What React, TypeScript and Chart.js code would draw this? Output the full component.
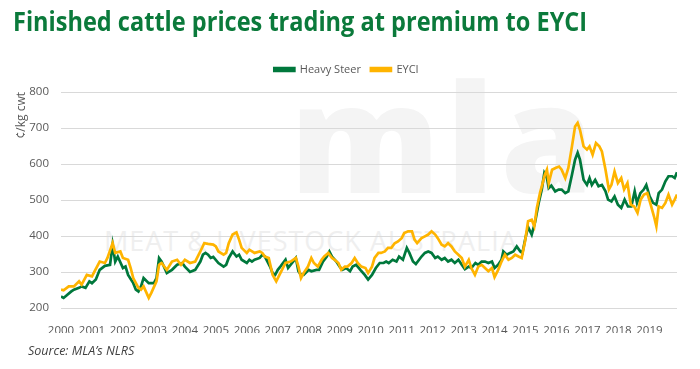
import React, { useEffect, useLayoutEffect, useRef } from "react";
import { Chart, registerables } from "chart.js";

Chart.register(...registerables);

// ---------- text ----------
const chartTitle = "Finished cattle prices trading at premium to EYCI";
const sourceText = "Source: MLA\u2019s NLRS";
const yAxisTitle = "\u00a2/kg cwt";
const seriesNames = ["Heavy Steer", "EYCI"];
const watermarkBig = "mla";
const watermarkSmall = "MEAT & LIVESTOCK AUSTRALIA";

// ---------- axes ----------
const startYear = 2000;
const yearTicks = [2000, 2001, 2002, 2003, 2004, 2005, 2006, 2007, 2008, 2009, 2010, 2011, 2012, 2013, 2014, 2015, 2016, 2017, 2018, 2019];
const valueTicks = [200, 300, 400, 500, 600, 700, 800];

// ---------- data (months since Jan 2000, c/kg cwt) ----------
const steerMonths = [
  0, 1, 4, 5, 7, 8, 9.5, 11, 12, 13.5, 15, 17, 19, 20, 21, 22, 24, 25, 26, 28, 29, 30, 31, 32, 34, 36, 37, 38, 39, 41,
  43, 45, 47, 48, 50, 52, 54, 55, 56, 57, 58, 59, 61, 63, 64, 65, 66.5, 68, 69, 70, 72, 73, 74, 75, 77, 78, 79, 81, 82, 83,
  84, 85, 87, 88, 90, 91, 92, 93, 94, 96, 97, 99, 100, 101.5, 103, 104, 105, 106.7, 108, 109, 110.5, 112, 113, 114.4, 116, 117.7, 119, 120.5, 122, 123.5,
  125, 126, 127, 128.5, 130, 131, 132.5, 134, 135, 136.4, 137.5, 139.7, 141, 142.3, 143.6, 145, 146, 147.5, 148.7, 150, 151.3, 152.6, 154, 155.3, 156.5, 158, 159, 160.6, 161.7, 163,
  164.3, 165.6, 167, 168, 169.4, 170.7, 171.4, 172.7, 174, 175.3, 176.6, 178, 178.8, 180, 181, 182.4, 183.7, 185, 186.3, 187.3, 188.3, 189, 190, 191.5, 192.8, 194, 195.4, 196.6, 198, 199.2,
  200.2, 201.1, 202.5, 203.8, 204.8, 205.7, 207, 208.3, 209.6, 211, 212, 213.3, 214.5, 215.8, 217.1, 218.4, 219.7, 221, 222.3, 223.2, 224.5, 225.8, 226.8, 228.1, 229.4, 230.7, 231.6, 232.9, 234.2, 235.4,
  236.8, 237.8, 238.7,
];
const steerValues = [
  232, 228, 246, 251, 256, 260, 256, 274, 269, 279, 306, 317, 320, 376, 329, 343, 311, 315, 292, 269, 251, 246, 260, 283, 269, 269, 283, 339, 329, 297,
  306, 320, 325, 315, 300, 306, 329, 348, 353, 348, 339, 342, 325, 315, 320, 339, 357, 343, 348, 334, 325, 334, 329, 334, 339, 348, 343, 315, 297, 292,
  306, 315, 334, 311, 329, 339, 302, 292, 292, 306, 302, 306, 306, 329, 343, 357, 343, 329, 315, 306, 311, 302, 315, 320, 306, 292, 279, 292, 311, 325,
  325, 329, 325, 334, 329, 343, 334, 367, 353, 329, 322, 343, 353, 357, 353, 339, 343, 334, 339, 329, 334, 325, 334, 320, 308, 315, 311, 325, 320, 329,
  329, 325, 329, 311, 320, 334, 357, 348, 353, 357, 371, 357, 353, 395, 425, 404, 438, 488, 529, 575, 561, 533, 540, 524, 529, 529, 519, 524, 570, 612,
  631, 612, 556, 542, 561, 542, 556, 538, 542, 524, 501, 496, 510, 487, 478, 501, 482, 482, 524, 492, 519, 529, 542, 510, 492, 487, 519, 529, 552, 566,
  566, 561, 577,
];

const eyciMonths = [
  0, 1, 3, 5, 7, 8, 10, 12, 13, 15, 17, 18, 20, 21, 23, 24, 26, 27, 28, 30, 31, 32, 34, 35, 37, 38, 39, 41, 43, 45,
  46.5, 48, 50, 52, 54, 55.5, 57, 59, 60, 61, 63, 64, 65, 66.5, 68, 69, 70, 72, 73, 75, 77, 78, 79, 80.5, 82, 83.4, 85, 87, 89, 91,
  92, 93, 94, 95.7, 97, 98, 99.5, 101, 102, 103.6, 105, 106, 107.5, 108.6, 110, 111, 112.6, 113.8, 115, 116.4, 118, 119, 120.5, 121.5, 123, 124, 125.5, 126.7, 128, 129.3,
  130.6, 132, 133, 134.5, 136, 137, 138, 139.7, 141, 142.3, 143.6, 145, 146, 147.5, 148.7, 150, 151.3, 152.6, 154, 155.3, 156.5, 158, 159, 160.4, 161.7, 163, 164.3, 165.6, 167, 168,
  169.4, 170.7, 172, 173.4, 174.7, 176, 177.3, 178.5, 179.8, 181, 182.4, 183.4, 184.4, 185.6, 186.3, 187.5, 188.3, 189, 190.3, 191.6, 193, 194, 195.4, 196.6, 198, 199.2, 200.2, 201.1, 202.5, 203.8,
  204.8, 206, 207.3, 208.6, 209.6, 211, 212.3, 213.3, 214.5, 215.8, 217.1, 218.2, 219.5, 220.8, 222.1, 223.4, 224.6, 225.9, 227.2, 228.5, 229.8, 230.7, 231.6, 232.9, 234.2, 235.4, 236.8, 237.8, 238.7,
];
const eyciValues = [
  251, 249, 260, 260, 274, 265, 292, 288, 302, 329, 325, 339, 380, 353, 357, 339, 334, 311, 283, 256, 251, 260, 228, 242, 274, 320, 325, 306, 329, 334,
  320, 334, 325, 329, 357, 380, 378, 376, 371, 357, 348, 353, 380, 404, 410, 390, 367, 353, 362, 353, 357, 353, 343, 339, 292, 274, 297, 325, 329, 339,
  315, 283, 297, 315, 339, 325, 315, 334, 343, 353, 339, 334, 325, 306, 315, 315, 325, 339, 325, 315, 311, 297, 315, 339, 353, 353, 357, 367, 367, 380,
  385, 394, 408, 413, 413, 390, 380, 394, 399, 404, 413, 404, 394, 376, 371, 380, 371, 357, 348, 339, 315, 334, 311, 292, 315, 320, 311, 302, 311, 286,
  306, 329, 348, 334, 339, 348, 343, 339, 385, 441, 445, 427, 478, 519, 538, 570, 584, 547, 584, 589, 593, 584, 561, 589, 649, 704, 714, 695, 649, 640,
  649, 626, 658, 649, 635, 584, 529, 542, 579, 547, 561, 529, 547, 487, 482, 464, 501, 515, 519, 487, 454, 427, 482, 478, 492, 515, 487, 501, 515,
];

// ---------- styling ----------
const GREEN = "#00783C";
const YELLOW = "#FFB400";
const TITLE_GREEN = "#0B7A3B";
const TEXT_GREY = "#595959";
const GRID_GREY = "#D9D9D9";
const FONT = "'Open Sans', 'DejaVu Sans', sans-serif";

function toPoints(months: number[], values: number[]) {
  return months.map((m, i) => ({ x: startYear + m / 12, y: values[i] }));
}

export default function App() {
  const canvasRef = useRef<HTMLCanvasElement | null>(null);
  const titleRef = useRef<HTMLDivElement | null>(null);

  useLayoutEffect(() => {
    const el = titleRef.current;
    if (el) {
      const w = el.scrollWidth;
      if (w > 0) el.style.transform = `scaleX(${574 / w})`;
    }
  }, []);

  useEffect(() => {
    if (!canvasRef.current) return;
    Chart.defaults.font.family = FONT;
    const lastMonth = Math.max(steerMonths[steerMonths.length - 1], eyciMonths[eyciMonths.length - 1]);

    const legendSpacer = {
      id: "legendSpacer",
      beforeInit(chart: any) {
        const legend = chart.legend;
        if (legend) {
          const fit = legend.fit;
          legend.fit = function () {
            fit.call(this);
            this.height += 7;
          };
        }
      },
      afterLayout(chart: any) {
        const legend = chart.legend;
        if (legend) {
          legend.left += 8;
          legend.right += 8;
        }
      },
    };

    const chart = new Chart(canvasRef.current, {
      type: "line",
      data: {
        datasets: [
          {
            label: seriesNames[0],
            data: toPoints(steerMonths, steerValues),
            borderColor: GREEN,
            backgroundColor: GREEN,
            borderWidth: 2.7,
            pointRadius: 0,
            tension: 0,
            order: 1,
          },
          {
            label: seriesNames[1],
            data: toPoints(eyciMonths, eyciValues),
            borderColor: YELLOW,
            backgroundColor: YELLOW,
            borderWidth: 2.7,
            pointRadius: 0,
            tension: 0,
            order: 0,
          },
        ],
      },
      options: {
        responsive: false,
        animation: false,
        layout: { padding: { top: 54, right: 23, bottom: 36, left: 0 } },
        plugins: {
          legend: {
            position: "top",
            labels: {
              boxWidth: 20,
              boxHeight: 3,
              padding: 10,
              color: TEXT_GREY,
              font: { size: 11 },
              sort: (a: any, b: any) => a.datasetIndex - b.datasetIndex,
            },
          },
          tooltip: { enabled: false },
          title: { display: false },
        },
        scales: {
          x: {
            type: "linear",
            min: startYear,
            max: startYear + lastMonth / 12,
            grid: { display: false },
            border: { display: false },
            ticks: {
              color: TEXT_GREY,
              font: { size: 11.5 },
              padding: 8,
              autoSkip: false,
              maxRotation: 0,
              includeBounds: false,
              callback: (v: any) => String(v),
            },
            afterBuildTicks: (scale: any) => {
              scale.ticks = yearTicks.map((v) => ({ value: v }));
            },
            afterFit: (scale: any) => {
              scale.height = 25;
            },
          },
          y: {
            min: valueTicks[0],
            max: valueTicks[valueTicks.length - 1],
            grid: { color: GRID_GREY, lineWidth: 1, drawTicks: false },
            border: { display: false },
            ticks: { color: TEXT_GREY, font: { size: 11.5 }, padding: 12 },
            afterBuildTicks: (scale: any) => {
              scale.ticks = valueTicks.map((v) => ({ value: v }));
            },
            title: {
              display: true,
              text: yAxisTitle,
              align: "end",
              color: TEXT_GREY,
              font: { size: 12 },
              padding: { top: 14, bottom: 0 },
            },
            afterFit: (scale: any) => {
              scale.width = 61;
            },
          },
        },
      },
      plugins: [legendSpacer],
    } as any);

    return () => chart.destroy();
  }, []);

  return (
    <div style={{ position: "absolute", left: 0, top: 0, width: 700, height: 369, background: "#fff", overflow: "hidden", fontFamily: FONT }}>
      <div
        style={{
          position: "absolute",
          left: 290,
          top: 60,
          fontSize: 150,
          fontWeight: 800,
          color: "#F4F4F4",
          lineHeight: "150px",
          letterSpacing: 6,
          whiteSpace: "nowrap",
        }}
      >
        {watermarkBig}
      </div>
      <div
        style={{
          position: "absolute",
          left: 104,
          top: 226,
          fontSize: 27,
          color: "#EFEFEF",
          lineHeight: "30px",
          letterSpacing: 1,
          whiteSpace: "nowrap",
        }}
      >
        {watermarkSmall}
      </div>
      <canvas ref={canvasRef} width={700} height={369} style={{ position: "absolute", left: 0, top: 0, width: 700, height: 369 }} />
      <div
        ref={titleRef}
        style={{
          position: "absolute",
          left: 13,
          top: 8,
          fontSize: 26,
          lineHeight: "26px",
          fontWeight: 700,
          color: TITLE_GREEN,
          whiteSpace: "nowrap",
          display: "inline-block",
          transformOrigin: "left top",
        }}
      >
        {chartTitle}
      </div>
      <div
        style={{
          position: "absolute",
          left: 28,
          top: 342,
          fontSize: 12.5,
          fontStyle: "italic",
          color: "#404040",
          whiteSpace: "nowrap",
        }}
      >
        {sourceText}
      </div>
    </div>
  );
}
